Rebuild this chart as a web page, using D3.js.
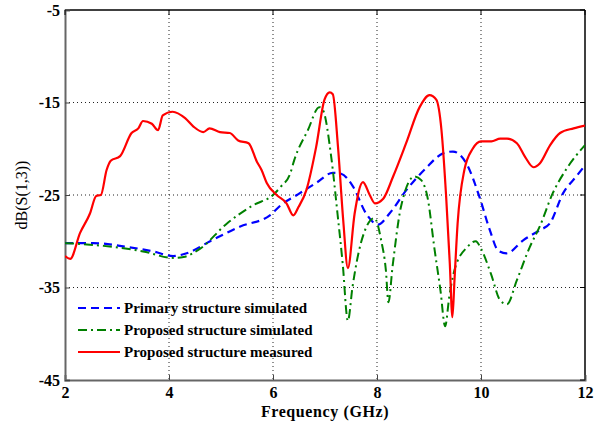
<!DOCTYPE html>
<html><head><meta charset="utf-8">
<script src="https://cdn.jsdelivr.net/npm/d3@7"></script>
<style>body{margin:0;background:#fff}svg{display:block}</style>
</head><body>
<script>
const xTicks = [2,4,6,8,10,12];
const yTicks = [-45,-35,-25,-15,-5];
const seriesNames = ["Primary structure simulated","Proposed structure simulated","Proposed structure measured"];

const primaryF = [2.0,2.54,3.18,3.7,4.08,4.34,4.79,5.37,5.94,6.15,6.46,6.83,7.15,7.31,7.54,7.79,8.02,8.24,8.56,8.94,9.27,9.46,9.72,9.97,10.17,10.33,10.49,10.81,11.13,11.32,11.58,11.83,12.0];
const primaryV = [-30.2,-30.2,-30.6,-31.1,-31.6,-31.3,-30.0,-28.4,-27.2,-26.1,-25.0,-23.7,-22.6,-22.7,-24.1,-27.0,-28.2,-27.0,-24.5,-22.1,-20.5,-20.3,-21.6,-25.2,-28.8,-31.0,-31.3,-29.9,-28.8,-28.1,-24.8,-23.0,-21.8];

const propSimF = [2.0,2.74,3.5,4.08,4.28,4.6,5.11,5.62,6.0,6.15,6.33,6.41,6.67,6.89,6.96,7.12,7.24,7.34,7.44,7.53,7.69,7.95,8.08,8.17,8.22,8.3,8.46,8.72,8.85,8.98,9.1,9.22,9.31,9.39,9.49,9.74,9.9,10.0,10.19,10.37,10.5,10.69,10.94,11.13,11.38,11.63,12.0];
const propSimV = [-30.2,-30.5,-31.1,-31.8,-31.7,-30.8,-28.1,-26.1,-25.0,-24.1,-22.7,-21.2,-18.0,-15.5,-15.8,-20.9,-27.0,-32.4,-38.6,-34.9,-30.2,-27.5,-29.9,-33.1,-36.6,-32.7,-26.3,-23.0,-23.4,-25.5,-30.6,-35.3,-39.2,-36.0,-33.1,-30.6,-30.0,-30.8,-33.5,-36.4,-36.8,-34.2,-30.6,-28.4,-24.8,-22.3,-19.6];

const measF = [2.0,2.1,2.29,2.48,2.6,2.69,2.8,2.88,3.06,3.28,3.41,3.5,3.67,3.79,3.88,4.07,4.31,4.47,4.66,4.78,4.98,5.17,5.33,5.53,5.69,5.78,5.88,6.07,6.26,6.39,6.49,6.64,6.83,6.99,7.09,7.15,7.25,7.35,7.44,7.57,7.73,7.86,7.96,8.12,8.31,8.56,8.82,9.01,9.14,9.24,9.33,9.4,9.45,9.49,9.55,9.68,9.84,10.0,10.2,10.37,10.5,10.69,10.85,11.01,11.13,11.33,11.52,11.78,12.0];
const measV = [-31.6,-31.9,-29.1,-27.0,-25.1,-25.0,-22.3,-21.3,-20.8,-18.3,-17.8,-17.0,-17.3,-18.0,-16.4,-16.0,-16.7,-17.6,-18.2,-17.8,-18.2,-18.3,-19.1,-19.4,-21.4,-22.3,-23.7,-25.0,-25.9,-27.2,-26.3,-24.5,-19.8,-14.7,-13.9,-14.1,-19.8,-27.7,-32.9,-27.0,-23.6,-25.0,-25.9,-25.4,-23.0,-19.4,-15.5,-14.2,-14.7,-18.0,-25.2,-32.4,-38.2,-34.2,-28.1,-22.3,-20.0,-19.2,-19.2,-18.9,-18.9,-19.4,-20.9,-22.0,-21.6,-19.6,-18.3,-17.8,-17.5];

const W = 603, H = 425;
const m = {l:65, r:18, t:10, b:45};
const svg = d3.select("body").append("svg").attr("width",W).attr("height",H);
const x = d3.scaleLinear().domain([2,12]).range([m.l, W-m.r]);
const y = d3.scaleLinear().domain([-45,-5]).range([H-m.b, m.t]);
const font = "Liberation Serif, DejaVu Serif, serif";

// grid
const g = svg.append("g");
g.selectAll(".gx").data(xTicks.slice(1,-1)).join("line")
  .attr("x1",d=>x(d)).attr("x2",d=>x(d)).attr("y1",y(-5)).attr("y2",y(-45))
  .attr("stroke","#222").attr("stroke-width",1).attr("stroke-dasharray","1,3");
g.selectAll(".gy").data(yTicks.slice(1,-1)).join("line")
  .attr("x1",x(2)).attr("x2",x(12)).attr("y1",d=>y(d)).attr("y2",d=>y(d))
  .attr("stroke","#222").attr("stroke-width",1).attr("stroke-dasharray","1,3");

// frame top/right
svg.append("line").attr("x1",x(2)).attr("x2",x(12)).attr("y1",y(-5)).attr("y2",y(-5)).attr("stroke","#000").attr("stroke-width",1.5);
svg.append("line").attr("x1",x(12)).attr("x2",x(12)).attr("y1",y(-5)).attr("y2",y(-45)).attr("stroke","#000").attr("stroke-width",1.5);

// axes
const fmt = d => String(d);
const xAxis = svg.append("g").attr("transform",`translate(0,${y(-45)})`)
  .call(d3.axisBottom(x).tickValues(xTicks).tickSize(-5).tickPadding(7).tickFormat(fmt));
const yAxis = svg.append("g").attr("transform",`translate(${x(2)},0)`)
  .call(d3.axisLeft(y).tickValues(yTicks).tickSize(-5).tickPadding(5).tickFormat(fmt));
[xAxis,yAxis].forEach(a=>{
  a.select(".domain").attr("stroke","#666").attr("stroke-width",2);
  a.selectAll(".tick line").attr("stroke","#444");
  a.selectAll("text").attr("font-family",font).attr("font-size",16).attr("font-weight","bold").attr("fill","#000");
});
// right & top ticks
svg.selectAll(".rt").data(yTicks).join("line")
  .attr("x1",x(12)).attr("x2",x(12)-5).attr("y1",d=>y(d)).attr("y2",d=>y(d)).attr("stroke","#000");
svg.selectAll(".tt").data(xTicks).join("line")
  .attr("x1",d=>x(d)).attr("x2",d=>x(d)).attr("y1",y(-5)).attr("y2",y(-5)+5).attr("stroke","#000");

// clip
svg.append("clipPath").attr("id","c").append("rect").attr("x",x(2)).attr("y",y(-5)).attr("width",x(12)-x(2)).attr("height",y(-45)-y(-5));

const line = d3.line().x(d=>x(d[0])).y(d=>y(d[1])).curve(d3.curveMonotoneX);
const styles = [
  {c:"#0000ff", w:2.2, dash:"8,5"},
  {c:"#008000", w:2, dash:"9,4,2,4"},
  {c:"#ff0000", w:2.2, dash:null}
];
const data = [d3.zip(primaryF,primaryV), d3.zip(propSimF,propSimV), d3.zip(measF,measV)];
const pl = svg.append("g").attr("clip-path","url(#c)");
data.forEach((d,i)=>{
  pl.append("path").attr("d",line(d)).attr("fill","none")
    .attr("stroke",styles[i].c).attr("stroke-width",styles[i].w)
    .attr("stroke-dasharray",styles[i].dash);
});

// legend
const ly = [308,330,352];
seriesNames.forEach((n,i)=>{
  svg.append("line").attr("x1",78).attr("x2",120).attr("y1",ly[i]).attr("y2",ly[i])
    .attr("stroke",styles[i].c).attr("stroke-width",styles[i].w).attr("stroke-dasharray",styles[i].dash);
  svg.append("text").attr("x",124).attr("y",ly[i]).attr("dy","0.35em")
    .attr("font-family",font).attr("font-size",15).attr("font-weight","bold").text(n);
});

// axis labels
svg.append("text").attr("x",(x(2)+x(12))/2).attr("y",417).attr("text-anchor","middle")
  .attr("font-family",font).attr("font-size",16).attr("font-weight","bold").attr("letter-spacing","0.6px").text("Frequency (GHz)");
svg.append("text").attr("transform",`translate(27,${y(-25)}) rotate(-90)`).attr("text-anchor","middle")
  .attr("font-family",font).attr("font-size",16).text("dB(S(1,3))");
</script>
</body></html>
